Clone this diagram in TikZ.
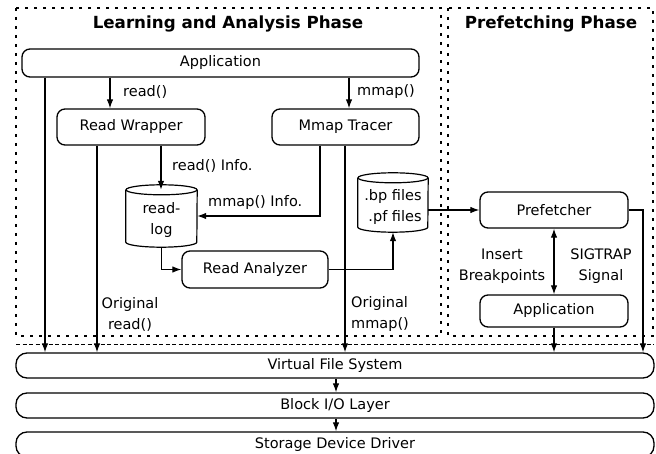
\documentclass[tikz,border=0pt]{standalone}
\usepackage{fontspec}
\setmainfont{DejaVu Sans}
\usetikzlibrary{arrows.meta,calc}

% outline of a database cylinder drawn around a (borderless) node
\newcommand\drawcyl[3]{%
  \draw[cylline] ([yshift=-#3]#1.north west) -- ([yshift=#3]#1.south west)
    arc[start angle=180,end angle=360,x radius=#2,y radius=#3]
    -- ([yshift=-#3]#1.north east);
  \draw[cylline] ([yshift=-#3]#1.north) ellipse[x radius=#2,y radius=#3];}

\begin{document}
\begin{tikzpicture}[x=1pt,y=-1pt,
  every node/.style={font=\fontsize{14.5}{21}\selectfont, inner sep=0pt},
  box/.style={draw, rounded corners=8pt, line width=1.3pt, align=center},
  layer/.style={draw, rounded corners=11pt, line width=1.3pt,
                minimum width=638pt, minimum height=25pt},
  cyl/.style={align=center},
  cylline/.style={line width=1.2pt},
  tip/.style={},
  conn/.style={line width=1.15pt, -{Latex[length=9pt,width=6.5pt]}},
  both/.style={line width=1.15pt, {Latex[length=9pt,width=6.5pt]}-{Latex[length=9pt,width=6.5pt]}},
  phase/.style={line width=2.2pt, dash pattern=on 3pt off 6pt},
  thindash/.style={line width=0.9pt, dash pattern=on 4pt off 2.5pt},
  title/.style={font=\fontsize{16.7}{20}\selectfont\bfseries},
  lbl/.style={align=center},
]
\useasboundingbox (0,0) rectangle (656,454);

% phase frames
\draw[phase] (16,8) rectangle (441,336);
\draw[phase] (448,8) rectangle (653,336);
\node[title] (t1) at (228,24) {Learning and Analysis Phase};
\node[title] (t2) at (551,24) {Prefetching Phase};

% learning and analysis components
\node[box, minimum width=397pt, minimum height=28pt] (app) at (220.5,63) {Application};
\node[box, minimum width=148pt, minimum height=36pt] (rw) at (131,127) {Read Wrapper};
\node[box, minimum width=147pt, minimum height=36pt] (mt) at (345.5,127) {Mmap Tracer};
\node[minimum width=71pt, minimum height=62pt] (rl) at (161.5,216) {};
\drawcyl{rl}{35.5pt}{5pt}
\node[cyl] (rltext) at ([yshift=-4pt]rl.center) {read-\\log};
\node[box, minimum width=146pt, minimum height=37pt] (ra) at (255,269.5) {Read Analyzer};
\node[minimum width=70pt, minimum height=59pt] (bp) at (393,202.5) {};
\drawcyl{bp}{35pt}{5pt}
\node[cyl, align=right] (bptext) at ([yshift=-5pt]bp.center) {.bp files\\.pf files};

% prefetching components
\node[box, minimum width=148pt, minimum height=36pt] (pf) at (554,210) {Prefetcher};
\node[box, minimum width=148pt, minimum height=32pt] (app2) at (554,311) {Application};

% kernel layers
\node[layer] (vfs) at (335,365.5) {Virtual File System};
\node[layer] (bio) at (335,405.5) {Block I/O Layer};
\node[layer] (sdd) at (335,444.5) {Storage Device Driver};

% boundary between user and kernel space
\coordinate (dl) at (16,344);
\coordinate (dr) at (654,344);
\draw[thindash] (dl) -- (dr);

% vertical tracks
\coordinate (xa) at (45,0);
\coordinate (xb) at (110,0);
\coordinate (xc) at (97,0);
\coordinate (xd) at (161,0);
\coordinate (xe) at (349,0);
\coordinate (xf) at (320,0);
\coordinate (xg) at (345,0);
\coordinate (xh) at (643,0);
\coordinate (xk) at (336,0);

% connectors
\draw[conn] (app.south -| xa) -- (vfs.north -| xa);
\draw[conn] (app.south -| xb) -- (rw.north -| xb);
\draw[conn] (app.south -| xe) -- (mt.north -| xe);
\draw[conn] (rw.south -| xc) -- (vfs.north -| xc);
\draw[conn] (rw.south -| xd) -- ([yshift=-5pt]rl.north -| xd);
\draw[conn] (mt.south -| xf) |- (rl.east);
\draw[conn] (rl.south) |- (ra.west);
\draw[conn] (mt.south -| xg) -- (vfs.north -| xg);
\draw[conn] (ra.east) -| (bp.south);
\draw[conn] (pf.west -| bp.east) -- (pf.west);
\draw[conn] (pf.east) -| (vfs.north -| xh);
\draw[both] (pf.south) -- (app2.north);
\draw[conn] (app2.south) -- (vfs.north -| app2.south);
\draw[conn] (vfs.south -| xk) -- (bio.north -| xk);
\draw[conn] (bio.south -| xk) -- (sdd.north -| xk);

% labels
\node[anchor=west] (l1) at (123,92) {read()};
\node[anchor=west] (l2) at (357,92) {mmap()};
\node[anchor=west] (l3) at (172,166) {read() Info.};
\node[anchor=west] (l4) at (208,203) {mmap() Info.};
\node[lbl] (l5) at (130,314) {Original\\read()};
\node[anchor=west, align=left] (l6) at (351,314) {Original\\mmap()};
\node[lbl] (l7) at (502,266) {Insert\\Breakpoints};
\node[lbl] (l8) at (601,266) {SIGTRAP\\Signal};
\end{tikzpicture}
\end{document}
